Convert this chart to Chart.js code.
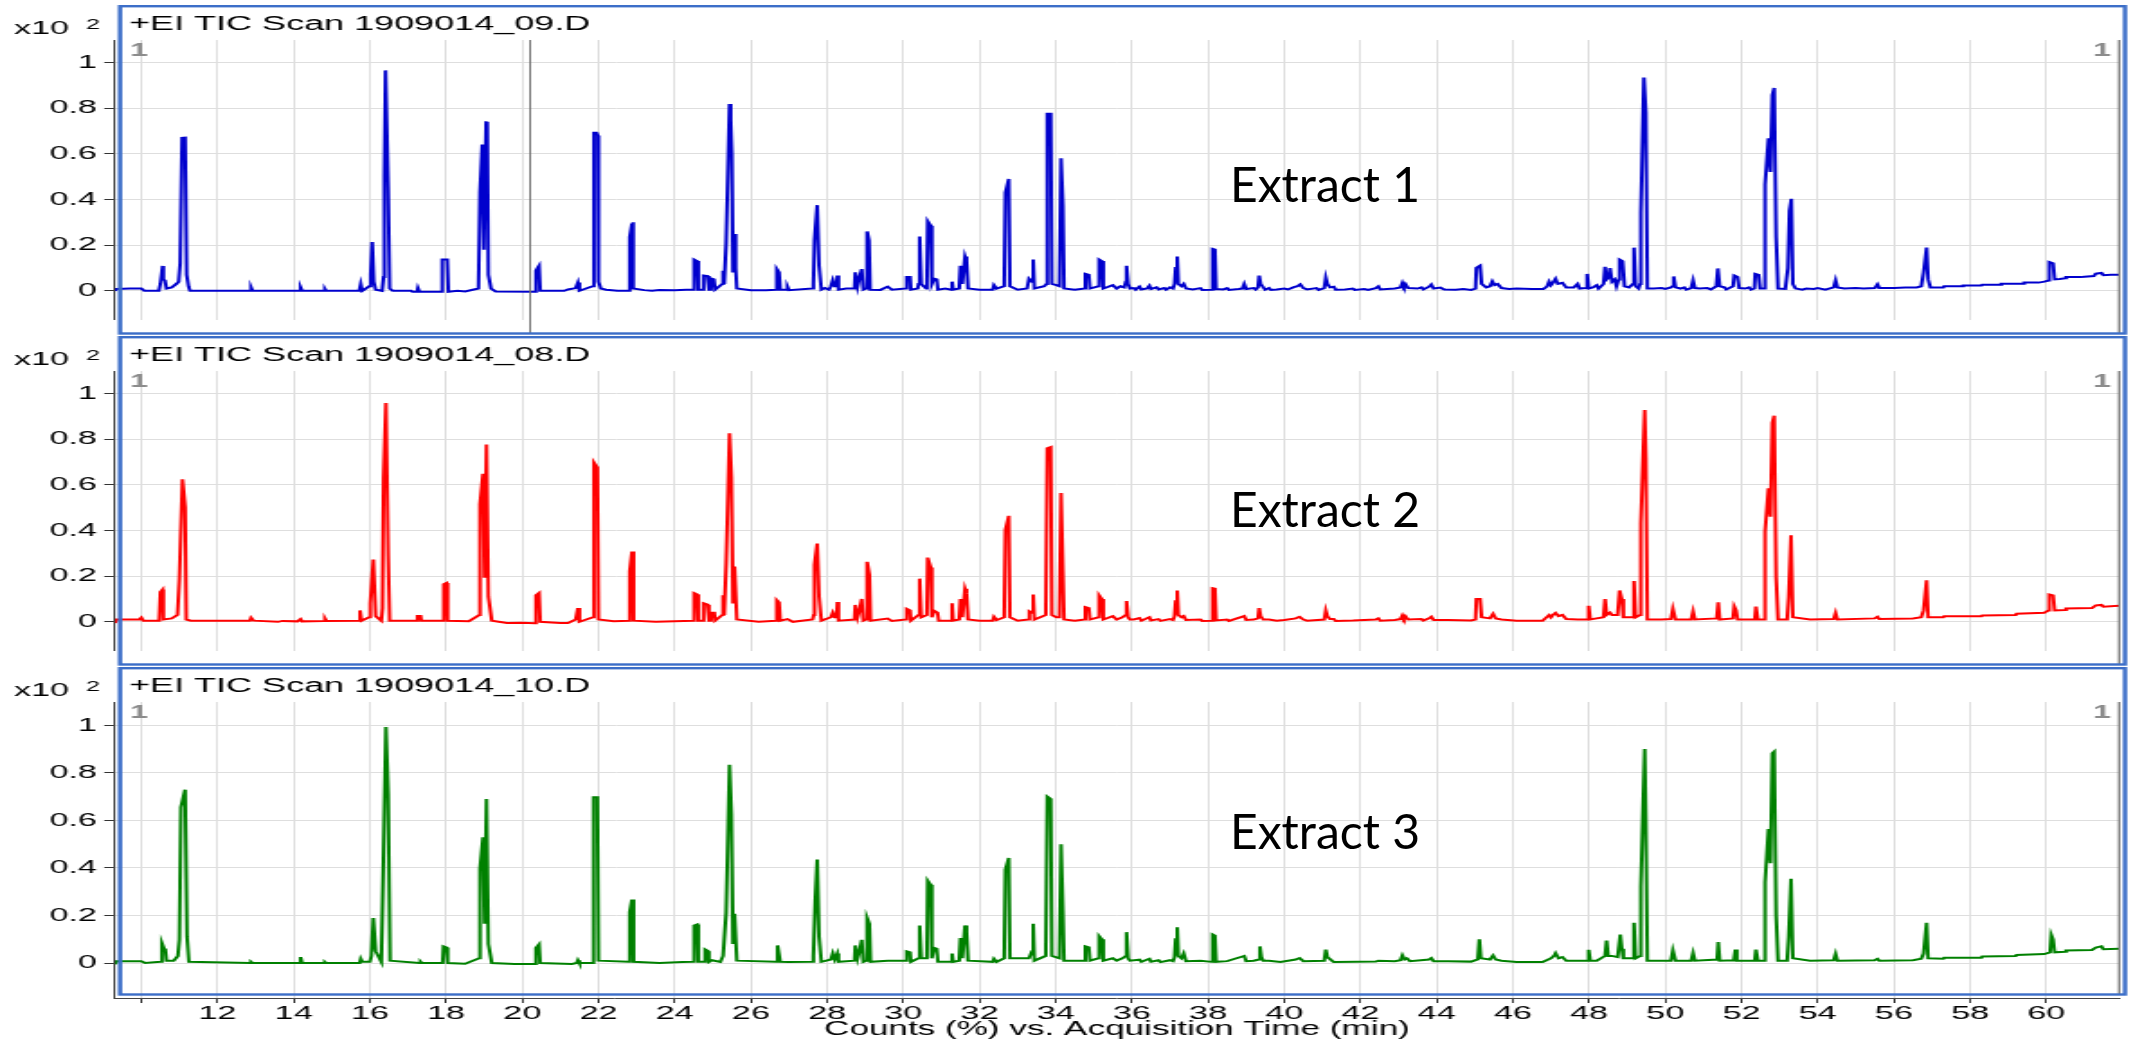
<!DOCTYPE html>
<html>
<head>
<meta charset="utf-8">
<script src="https://cdn.jsdelivr.net/npm/chart.js@4.4.1/dist/chart.umd.min.js"></script>
<style>
  html, body { margin: 0; padding: 0; background: #fff; }
  body { width: 2133px; height: 1041px; position: relative; overflow: hidden; }
  canvas.panel { position: absolute; left: 0; }
  .extract { position: absolute; left: 1230px; font-family: Lato, "Noto Sans", sans-serif; font-size: 48px; line-height: 1; color: #000; white-space: nowrap; }
</style>
</head>
<body>
<canvas id="c1" class="panel" width="1185" height="331" style="top:4px;width:2133px;height:331px"></canvas>
<canvas id="c2" class="panel" width="1185" height="331" style="top:335px;width:2133px;height:331px"></canvas>
<canvas id="c3" class="panel" width="1185" height="375" style="top:666px;width:2133px;height:375px"></canvas>
<div class="extract" style="top:160px">Extract 1</div>
<div class="extract" style="top:485px">Extract 2</div>
<div class="extract" style="top:807px">Extract 3</div>
<script>
// axis ticks / labels
const timeTicks  = [10, 12, 14, 16, 18, 20, 22, 24, 26, 28, 30, 32, 34, 36, 38, 40, 42, 44, 46, 48, 50, 52, 54, 56, 58, 60];
const timeLabels = ['', '12', '14', '16', '18', '20', '22', '24', '26', '28', '30', '32', '34', '36', '38', '40', '42', '44', '46', '48', '50', '52', '54', '56', '58', '60'];
const countTicks  = [0, 0.2, 0.4, 0.6, 0.8, 1];
const countLabels = ['0', '0.2', '0.4', '0.6', '0.8', '1'];
const titles = ['+EI TIC Scan 1909014_09.D', '+EI TIC Scan 1909014_08.D', '+EI TIC Scan 1909014_10.D'];
const xTitle = 'Counts (%) vs. Acquisition Time (min)';
const cursorTime = 20.19;

// [acquisition time (min), counts (x10^2 %)]
const extract1 = [
  [9.31,0.0],[9.35,0.008],[9.7,0.01],[10.0,0.01],[10.08,0.0],
  [10.46,0.0],[10.5,0.03],[10.56,0.109],[10.58,0.05],[10.62,0.046],[10.66,0.01],[10.8,0.015],[10.92,0.03],[10.98,0.04],[11.02,0.12],[11.07,0.67],[11.15,0.671],[11.19,0.07],[11.24,0.02],[11.28,0.0],
  [12.86,0.0],[12.88,0.015],[12.92,0.0],[14.15,0.0],[14.18,0.015],[14.22,0.0],[14.8,0.0],[14.82,0.008],[14.85,0.0],[15.72,0.0],[15.76,0.03],[15.8,0.0],
  [15.98,0.02],[16.02,0.07],[16.06,0.214],[16.1,0.04],[16.15,0.005],
  [16.32,0.0],[16.36,0.06],[16.38,0.5],[16.41,0.965],[16.44,0.965],[16.48,0.445],[16.52,0.01],[16.6,0.0],
  [17.08,0.0],[17.12,-0.004],[17.24,-0.004],[17.26,0.012],[17.3,-0.004],[17.6,-0.004],
  [17.88,-0.004],[17.9,0.137],[18.03,0.137],[18.06,-0.004],[18.3,0.0],[18.5,-0.003],
  [18.85,0.01],[18.89,0.43],[18.95,0.64],[18.99,0.18],[19.05,0.738],[19.08,0.74],[19.11,0.07],[19.18,0.01],[19.3,-0.003],
  [20.34,-0.004],[20.36,0.088],[20.4,0.1],[20.44,0.11],[20.47,0.0],
  [21.1,0.0],[21.2,0.006],[21.4,0.012],[21.46,0.036],[21.5,0.0],
  [21.85,0.02],[21.88,0.692],[21.95,0.692],[21.98,0.68],[22.0,0.04],[22.06,0.01],[22.2,0.005],[22.5,0.0],
  [22.8,0.0],[22.82,0.235],[22.88,0.294],[22.9,0.3],[22.92,0.01],
  [23.2,0.003],[23.4,0.0],[23.6,0.004],[24.0,0.003],[24.3,0.005],
  [24.49,0.005],[24.51,0.137],[24.59,0.13],[24.62,0.005],[24.74,0.005],[24.76,0.067],[24.86,0.065],[24.9,0.005],[24.95,0.005],[24.97,0.053],[25.03,0.05],[25.06,0.005],
  [25.25,0.03],[25.27,0.088],[25.3,0.03],[25.35,0.207],[25.44,0.818],[25.47,0.75],[25.5,0.6],[25.53,0.08],[25.57,0.249],[25.6,0.1],[25.63,0.01],
  [26.0,0.003],[26.4,0.002],[26.66,0.005],[26.68,0.095],[26.74,0.08],[26.77,0.005],[26.94,0.005],[26.96,0.018],[27.0,0.003],
  [27.6,0.01],[27.64,0.03],[27.67,0.221],[27.74,0.375],[27.79,0.11],[27.85,0.005],
  [27.94,0.012],[28.05,0.005],[28.1,0.02],[28.15,0.046],[28.2,0.02],[28.25,0.02],[28.27,0.067],[28.3,0.005],
  [28.5,0.01],[28.72,0.01],[28.74,0.081],[28.8,0.02],[28.85,0.06],[28.91,0.095],[28.95,0.005],
  [29.03,0.01],[29.05,0.26],[29.1,0.22],[29.13,0.005],[29.4,0.004],[29.59,0.018],[29.7,0.005],
  [30.06,0.01],[30.09,0.06],[30.18,0.06],[30.2,0.005],[30.38,0.01],[30.4,0.03],[30.43,0.238],[30.47,0.03],[30.6,0.01],[30.62,0.03],[30.64,0.305],[30.72,0.285],[30.75,0.03],[30.81,0.053],[30.88,0.05],[30.91,0.005],
  [31.1,0.01],[31.26,0.005],[31.28,0.04],[31.31,0.005],[31.47,0.01],[31.5,0.11],[31.55,0.03],[31.62,0.15],[31.66,0.13],[31.7,0.01],
  [32.0,0.005],[32.35,0.005],[32.38,0.025],[32.45,0.01],[32.65,0.02],[32.68,0.43],[32.77,0.49],[32.8,0.02],[33.0,0.005],
  [33.25,0.01],[33.3,0.053],[33.38,0.04],[33.41,0.137],[33.44,0.01],[33.7,0.02],[33.76,0.03],[33.78,0.775],[33.87,0.775],[33.9,0.03],[34.02,0.025],[34.1,0.02],[34.14,0.58],[34.19,0.375],[34.22,0.01],
  [34.5,0.005],[34.76,0.01],[34.78,0.074],[34.87,0.07],[34.9,0.01],[35.12,0.02],[35.14,0.137],[35.21,0.13],[35.25,0.01],
  [35.5,0.025],[35.6,0.01],[35.7,0.02],[35.8,0.015],[35.84,0.04],[35.86,0.11],[35.9,0.03],[35.95,0.01],
  [36.05,0.012],[36.1,0.005],[36.2,0.018],[36.25,0.006],[36.4,0.01],[36.46,0.022],[36.5,0.008],[36.65,0.015],[36.7,0.006],[36.85,0.012],[36.9,0.005],[37.0,0.015],[37.08,0.01],
  [37.12,0.03],[37.15,0.1],[37.19,0.15],[37.22,0.03],[37.3,0.02],[37.36,0.03],[37.42,0.01],[37.6,0.006],[37.8,0.012],[37.85,0.004],
  [38.1,0.005],[38.12,0.183],[38.18,0.18],[38.21,0.008],[38.4,0.006],[38.5,0.012],[38.55,0.004],[38.8,0.008],[38.9,0.01],[38.95,0.03],[39.0,0.008],[39.2,0.012],[39.25,0.006],
  [39.31,0.015],[39.34,0.067],[39.38,0.03],[39.45,0.015],[39.5,0.005],[39.6,0.012],[39.65,0.004],[39.8,0.006],[40.0,0.01],[40.1,0.006],[40.25,0.016],[40.35,0.02],[40.42,0.028],[40.5,0.012],[40.6,0.006],[40.85,0.012],[40.9,0.004],
  [41.05,0.012],[41.09,0.057],[41.13,0.03],[41.2,0.015],[41.3,0.018],[41.35,0.005],[41.6,0.006],[41.8,0.01],[41.85,0.004],[42.1,0.008],[42.2,0.004],[42.4,0.012],[42.47,0.02],[42.52,0.006],[42.7,0.008],[42.9,0.01],
  [43.05,0.015],[43.1,0.035],[43.14,0.02],[43.18,0.03],[43.25,0.012],[43.5,0.01],[43.6,0.015],[43.65,0.006],[43.8,0.018],[43.86,0.028],[43.92,0.01],[44.1,0.014],[44.2,0.006],[44.5,0.005],[44.7,0.008],[44.9,0.004],
  [45.02,0.01],[45.04,0.1],[45.14,0.11],[45.18,0.03],[45.3,0.015],[45.4,0.02],[45.46,0.042],[45.52,0.025],[45.6,0.03],[45.7,0.012],[45.9,0.008],[46.1,0.01],[46.5,0.008],[46.8,0.008],
  [46.9,0.02],[46.95,0.04],[47.0,0.025],[47.05,0.035],[47.12,0.053],[47.18,0.03],[47.3,0.035],[47.4,0.015],[47.6,0.015],[47.7,0.03],[47.75,0.01],[47.92,0.012],
  [47.95,0.074],[47.99,0.01],[48.1,0.015],[48.2,0.025],[48.25,0.01],[48.38,0.03],[48.42,0.105],[48.46,0.05],[48.52,0.06],[48.55,0.1],[48.6,0.04],[48.67,0.05],[48.72,0.02],[48.78,0.05],[48.8,0.137],[48.88,0.13],[48.93,0.02],
  [49.05,0.015],[49.15,0.03],[49.18,0.189],[49.22,0.02],[49.3,0.01],[49.34,0.03],[49.36,0.34],[49.44,0.934],[49.49,0.78],[49.53,0.01],
  [49.7,0.01],[49.9,0.012],[50.0,0.008],[50.15,0.015],[50.19,0.02],[50.22,0.063],[50.27,0.015],[50.4,0.01],[50.5,0.015],[50.55,0.005],[50.68,0.012],[50.73,0.046],[50.78,0.012],[50.9,0.01],[51.1,0.012],[51.2,0.006],[51.34,0.02],[51.38,0.098],[51.43,0.02],[51.55,0.015],[51.6,0.006],[51.78,0.02],[51.81,0.067],[51.9,0.06],[51.94,0.012],[52.1,0.01],[52.2,0.015],[52.25,0.005],
  [52.34,0.01],[52.36,0.074],[52.45,0.07],[52.49,0.01],[52.6,0.01],[52.62,0.466],[52.71,0.668],[52.76,0.52],[52.81,0.857],[52.86,0.888],[52.91,0.235],[52.96,0.01],
  [53.15,0.008],[53.22,0.1],[53.26,0.35],[53.31,0.403],[53.35,0.03],[53.42,0.01],[53.6,0.005],[53.7,0.01],[53.9,0.008],[54.0,0.012],[54.2,0.005],[54.42,0.015],[54.47,0.046],[54.52,0.015],[54.7,0.01],[55.0,0.012],[55.2,0.01],[55.5,0.012],[55.57,0.028],[55.62,0.012],[56.0,0.012],[56.3,0.015],[56.6,0.015],[56.72,0.02],
  [56.78,0.08],[56.86,0.189],[56.9,0.05],[56.96,0.015],[57.3,0.015],[57.32,0.02],[57.8,0.02],[57.82,0.023],[58.3,0.023],[58.32,0.027],[58.8,0.027],[58.82,0.031],[59.4,0.031],[59.42,0.036],[59.8,0.036],[59.95,0.04],[60.06,0.045],
  [60.08,0.126],[60.18,0.12],[60.22,0.05],[60.35,0.052],[60.5,0.055],[60.52,0.06],[60.9,0.06],[61.0,0.062],[61.25,0.065],[61.3,0.075],[61.45,0.078],[61.5,0.068],[61.7,0.07],[61.9,0.07]
];

const extract2 = [
  [9.31,-0.005],[9.35,0.01],[9.95,0.01],[10.0,0.018],[10.05,0.005],
  [10.47,0.005],[10.5,0.13],[10.56,0.141],[10.58,0.01],[10.8,0.015],[10.95,0.03],[11.0,0.19],[11.08,0.624],[11.15,0.5],[11.18,0.01],[11.3,0.005],
  [12.85,0.005],[12.88,0.018],[12.95,0.005],[13.59,0.0],[13.7,0.004],[14.1,0.002],[14.18,0.012],[14.22,0.002],[14.8,0.004],[14.82,0.015],[14.86,0.004],
  [15.7,0.005],[15.74,0.05],[15.78,0.005],
  [15.98,0.02],[16.01,0.08],[16.09,0.273],[16.15,0.025],[16.3,0.005],[16.33,0.06],[16.36,0.627],[16.42,0.958],[16.48,0.29],[16.52,0.005],
  [17.24,0.005],[17.25,0.025],[17.33,0.025],[17.35,0.005],
  [17.92,0.005],[17.94,0.165],[18.01,0.17],[18.04,0.005],[18.6,0.003],
  [18.87,0.03],[18.89,0.515],[18.97,0.648],[19.01,0.193],[19.06,0.776],[19.11,0.11],[19.2,0.005],[19.6,-0.005],[20.0,-0.004],
  [20.33,-0.006],[20.36,0.116],[20.44,0.126],[20.47,0.0],[21.0,-0.005],[21.2,-0.005],[21.4,0.01],[21.46,0.06],[21.5,0.0],
  [21.86,0.02],[21.88,0.697],[21.97,0.676],[22.0,0.01],[22.4,0.003],
  [22.8,0.005],[22.82,0.221],[22.88,0.308],[22.92,0.005],[23.5,0.0],[24.0,0.003],
  [24.49,0.005],[24.51,0.126],[24.59,0.12],[24.62,0.005],[24.74,0.005],[24.76,0.081],[24.86,0.075],[24.9,0.005],[24.95,0.005],[24.97,0.04],[25.04,0.04],[25.06,0.005],
  [25.25,0.03],[25.27,0.116],[25.3,0.03],[25.35,0.25],[25.44,0.825],[25.49,0.634],[25.53,0.08],[25.57,0.242],[25.63,0.01],
  [26.2,0.0],[26.66,0.005],[26.68,0.095],[26.74,0.085],[26.77,0.005],[26.96,0.012],[27.1,0.0],
  [27.62,0.01],[27.65,0.03],[27.67,0.25],[27.74,0.343],[27.79,0.11],[27.85,0.005],
  [28.1,0.02],[28.15,0.04],[28.2,0.02],[28.25,0.02],[28.27,0.087],[28.3,0.005],[28.72,0.01],[28.74,0.074],[28.8,0.02],[28.85,0.05],[28.91,0.1],[28.95,0.005],
  [29.03,0.01],[29.05,0.263],[29.11,0.207],[29.14,0.005],[29.59,0.014],[29.7,0.004],
  [30.06,0.01],[30.09,0.057],[30.18,0.05],[30.2,0.005],[30.4,0.03],[30.43,0.189],[30.47,0.02],[30.62,0.03],[30.64,0.281],[30.72,0.238],[30.75,0.02],[30.81,0.048],[30.9,0.04],[30.93,0.005],
  [31.26,0.005],[31.28,0.081],[31.31,0.005],[31.47,0.01],[31.5,0.1],[31.55,0.02],[31.62,0.145],[31.66,0.125],[31.7,0.01],
  [32.0,0.005],[32.35,0.005],[32.38,0.022],[32.45,0.008],[32.65,0.02],[32.68,0.403],[32.77,0.464],[32.8,0.02],[33.0,0.005],
  [33.28,0.01],[33.31,0.046],[33.38,0.04],[33.41,0.12],[33.44,0.01],[33.74,0.03],[33.78,0.76],[33.87,0.765],[33.9,0.03],[34.02,0.02],[34.1,0.02],[34.14,0.564],[34.19,0.22],[34.22,0.01],
  [34.5,0.005],[34.76,0.01],[34.78,0.064],[34.87,0.06],[34.9,0.01],[35.12,0.02],[35.14,0.116],[35.21,0.1],[35.25,0.01],
  [35.5,0.025],[35.6,0.01],[35.75,0.02],[35.84,0.03],[35.86,0.091],[35.9,0.02],[35.95,0.01],
  [36.05,0.01],[36.2,0.016],[36.25,0.005],[36.46,0.02],[36.5,0.006],[36.7,0.012],[36.75,0.004],[37.0,0.012],[37.08,0.008],
  [37.12,0.025],[37.15,0.09],[37.19,0.137],[37.22,0.03],[37.3,0.02],[37.36,0.025],[37.42,0.008],[37.8,0.01],[37.85,0.004],
  [38.1,0.005],[38.12,0.147],[38.18,0.145],[38.21,0.006],[38.5,0.01],[38.55,0.004],[38.95,0.025],[39.0,0.008],[39.2,0.01],
  [39.31,0.015],[39.34,0.06],[39.38,0.025],[39.45,0.01],[39.6,0.01],[39.8,0.005],[40.0,0.008],[40.3,0.015],[40.4,0.022],[40.5,0.01],[40.6,0.005],
  [41.05,0.01],[41.09,0.049],[41.13,0.025],[41.2,0.012],[41.3,0.012],[41.35,0.004],[41.8,0.006],[42.4,0.01],[42.47,0.015],[42.52,0.005],[42.9,0.008],
  [43.05,0.012],[43.1,0.028],[43.14,0.015],[43.18,0.025],[43.25,0.01],[43.6,0.012],[43.65,0.005],[43.8,0.015],[43.86,0.022],[43.92,0.008],[44.3,0.008],[44.9,0.006],
  [45.02,0.01],[45.04,0.1],[45.14,0.1],[45.18,0.02],[45.4,0.015],[45.48,0.035],[45.55,0.015],[45.7,0.01],[46.1,0.005],[46.78,0.005],
  [46.95,0.03],[47.0,0.02],[47.05,0.03],[47.12,0.039],[47.2,0.025],[47.3,0.03],[47.4,0.012],[47.7,0.01],
  [47.97,0.01],[47.99,0.07],[48.03,0.01],[48.2,0.015],[48.38,0.02],[48.42,0.1],[48.46,0.03],[48.55,0.04],[48.6,0.03],[48.75,0.03],[48.8,0.137],[48.86,0.1],[48.9,0.02],
  [49.15,0.02],[49.18,0.179],[49.22,0.02],[49.34,0.03],[49.36,0.43],[49.46,0.927],[49.49,0.717],[49.53,0.01],
  [49.9,0.01],[50.15,0.012],[50.2,0.057],[50.27,0.01],[50.68,0.01],[50.73,0.046],[50.78,0.01],[51.35,0.015],[51.39,0.085],[51.43,0.01],[51.78,0.015],[51.81,0.067],[51.86,0.05],[51.9,0.01],
  [52.35,0.01],[52.38,0.067],[52.43,0.01],[52.6,0.01],[52.62,0.396],[52.71,0.585],[52.76,0.46],[52.81,0.871],[52.86,0.902],[52.91,0.193],[52.96,0.01],
  [53.2,0.01],[53.24,0.11],[53.3,0.379],[53.35,0.02],[53.8,0.01],[54.42,0.012],[54.47,0.039],[54.52,0.01],[55.5,0.015],[55.57,0.022],[55.62,0.012],[56.5,0.015],[56.72,0.02],
  [56.78,0.05],[56.86,0.182],[56.9,0.02],[57.3,0.02],[57.32,0.024],[58.3,0.024],[58.32,0.028],[59.2,0.03],[59.22,0.035],[59.95,0.04],[60.06,0.05],
  [60.08,0.119],[60.18,0.115],[60.22,0.05],[60.5,0.052],[60.52,0.058],[61.2,0.06],[61.3,0.072],[61.45,0.074],[61.5,0.066],[61.9,0.07]
];

const extract3 = [
  [9.31,-0.005],[9.35,0.008],[10.0,0.008],[10.1,0.0],
  [10.5,0.005],[10.54,0.084],[10.6,0.06],[10.63,0.057],[10.66,0.01],[10.85,0.01],[10.96,0.03],[11.0,0.1],[11.04,0.655],[11.15,0.729],[11.2,0.11],[11.25,0.005],
  [12.86,0.0],[12.88,0.005],[12.92,0.0],[14.14,0.0],[14.18,0.025],[14.22,0.0],[14.8,0.0],[14.82,0.004],[14.85,0.0],[15.73,0.0],[15.76,0.018],[15.8,0.005],
  [16.0,0.005],[16.04,0.03],[16.09,0.189],[16.15,0.05],[16.3,0.005],[16.35,0.39],[16.42,0.993],[16.48,0.71],[16.53,0.01],
  [17.3,0.0],[17.33,0.005],[17.36,0.0],[17.91,0.0],[17.93,0.07],[18.01,0.065],[18.04,0.0],[18.5,-0.003],
  [18.87,0.02],[18.89,0.396],[18.97,0.529],[19.01,0.165],[19.06,0.69],[19.11,0.08],[19.2,0.0],[19.8,-0.004],
  [20.33,-0.004],[20.36,0.063],[20.44,0.078],[20.47,0.0],[21.3,-0.004],[21.43,0.0],[21.46,0.012],[21.5,0.0],
  [21.84,0.0],[21.86,0.01],[21.88,0.697],[21.97,0.697],[22.0,0.01],[22.8,0.005],[22.82,0.214],[22.88,0.267],[22.92,0.005],
  [23.6,0.0],[24.2,0.004],[24.49,0.005],[24.51,0.158],[24.59,0.162],[24.62,0.005],[24.78,0.005],[24.8,0.057],[24.88,0.05],[24.9,0.005],[24.98,0.012],[25.2,0.005],
  [25.27,0.03],[25.35,0.21],[25.44,0.834],[25.49,0.627],[25.53,0.08],[25.57,0.207],[25.63,0.01],
  [26.66,0.005],[26.7,0.074],[26.77,0.005],[27.0,0.004],[27.6,0.005],[27.64,0.03],[27.69,0.263],[27.74,0.435],[27.79,0.11],[27.85,0.005],
  [28.1,0.015],[28.15,0.04],[28.2,0.015],[28.27,0.04],[28.3,0.005],[28.72,0.01],[28.74,0.074],[28.8,0.02],[28.85,0.05],[28.91,0.098],[28.95,0.005],
  [29.03,0.01],[29.05,0.19],[29.11,0.165],[29.14,0.005],[29.59,0.01],[30.06,0.01],[30.09,0.049],[30.18,0.045],[30.2,0.005],
  [30.4,0.02],[30.43,0.158],[30.47,0.02],[30.62,0.02],[30.64,0.347],[30.72,0.329],[30.75,0.02],[30.81,0.064],[30.88,0.06],[30.91,0.005],
  [31.26,0.005],[31.28,0.04],[31.31,0.005],[31.47,0.01],[31.5,0.105],[31.55,0.02],[31.62,0.158],[31.66,0.13],[31.7,0.01],
  [32.35,0.005],[32.38,0.018],[32.45,0.005],[32.65,0.02],[32.68,0.393],[32.77,0.442],[32.8,0.02],
  [33.3,0.02],[33.38,0.05],[33.41,0.165],[33.44,0.01],[33.74,0.03],[33.78,0.70],[33.87,0.69],[33.9,0.03],[34.1,0.02],[34.14,0.5],[34.19,0.22],[34.22,0.01],
  [34.76,0.01],[34.78,0.07],[34.87,0.066],[34.9,0.01],[35.12,0.02],[35.14,0.113],[35.21,0.1],[35.25,0.01],
  [35.5,0.02],[35.6,0.01],[35.75,0.02],[35.84,0.03],[35.86,0.13],[35.9,0.02],[35.95,0.01],
  [36.2,0.014],[36.25,0.005],[36.46,0.018],[36.5,0.006],[36.7,0.012],[36.75,0.004],[37.0,0.012],[37.08,0.008],
  [37.12,0.025],[37.15,0.1],[37.19,0.151],[37.22,0.03],[37.3,0.02],[37.36,0.04],[37.42,0.008],[37.8,0.01],
  [38.1,0.005],[38.12,0.12],[38.18,0.115],[38.21,0.005],[38.5,0.008],[38.95,0.03],[39.0,0.008],[39.2,0.01],
  [39.33,0.015],[39.36,0.07],[39.4,0.025],[39.45,0.01],[39.6,0.01],[39.9,0.005],[40.3,0.015],[40.4,0.021],[40.5,0.008],
  [41.05,0.01],[41.09,0.057],[41.13,0.025],[41.25,0.01],[41.3,0.004],[41.9,0.005],[42.4,0.006],[42.47,0.01],[42.9,0.008],
  [43.05,0.012],[43.1,0.033],[43.16,0.015],[43.22,0.02],[43.3,0.008],[43.8,0.015],[43.86,0.021],[43.92,0.008],[44.3,0.008],[44.9,0.006],
  [45.08,0.015],[45.12,0.1],[45.16,0.02],[45.4,0.015],[45.48,0.032],[45.55,0.015],[45.7,0.01],[46.1,0.004],[46.78,0.004],
  [47.0,0.02],[47.08,0.03],[47.12,0.042],[47.2,0.02],[47.3,0.025],[47.4,0.01],[47.7,0.01],
  [47.97,0.01],[47.99,0.056],[48.03,0.01],[48.2,0.01],[48.42,0.03],[48.46,0.095],[48.5,0.03],[48.6,0.03],[48.75,0.025],[48.82,0.12],[48.86,0.06],[48.9,0.02],
  [49.15,0.02],[49.18,0.169],[49.22,0.02],[49.34,0.03],[49.36,0.32],[49.46,0.9],[49.49,0.6],[49.53,0.01],
  [49.9,0.01],[50.15,0.01],[50.2,0.053],[50.27,0.01],[50.68,0.01],[50.73,0.042],[50.78,0.01],[51.36,0.015],[51.39,0.088],[51.43,0.01],[51.8,0.012],[51.84,0.057],[51.88,0.01],
  [52.35,0.01],[52.38,0.057],[52.43,0.01],[52.6,0.01],[52.62,0.34],[52.71,0.564],[52.76,0.42],[52.81,0.882],[52.86,0.889],[52.91,0.2],[52.96,0.01],
  [53.2,0.01],[53.24,0.11],[53.3,0.354],[53.35,0.02],[53.8,0.01],[54.42,0.012],[54.47,0.039],[54.52,0.01],[55.5,0.012],[55.57,0.018],[55.62,0.01],[56.5,0.012],[56.72,0.018],
  [56.78,0.04],[56.86,0.169],[56.9,0.02],[57.3,0.018],[57.32,0.022],[58.3,0.022],[58.32,0.028],[59.2,0.03],[59.22,0.034],[59.95,0.038],[60.1,0.045],
  [60.13,0.119],[60.18,0.1],[60.22,0.045],[60.5,0.048],[60.52,0.053],[61.2,0.055],[61.3,0.065],[61.45,0.07],[61.5,0.058],[61.9,0.06]
];

// the original screenshot is stretched sideways, so each canvas is drawn narrow and widened by CSS
const STRETCH = 2133 / 1185;
const px = x => x / STRETCH;   // page x -> canvas x
const FONT = '"Liberation Sans", Arial, sans-serif';
Chart.defaults.font.family = FONT;

const panelDeco = {
  id: 'panelDeco',
  afterDraw(chart, args, o) {
    const { ctx, chartArea: a, scales } = chart;
    ctx.save();
    ctx.lineWidth = 1;
    // right hand axis line
    ctx.strokeStyle = '#5a5a5a';
    ctx.beginPath(); ctx.moveTo(a.right, a.top); ctx.lineTo(a.right, o.frameBottom); ctx.stroke();
    if (o.cursor != null) {
      const cx = Math.round(scales.x.getPixelForValue(o.cursor)) + 0.5;
      ctx.strokeStyle = '#707070';
      ctx.beginPath(); ctx.moveTo(cx, a.top); ctx.lineTo(cx, o.frameBottom); ctx.stroke();
    }
    // blue panel frame
    ctx.strokeStyle = '#3c6ec8';
    ctx.lineWidth = 2.4;
    ctx.strokeRect(px(120), 2.2, px(2125) - px(120), o.frameBottom - 2.2);
    // panel title
    ctx.fillStyle = '#000';
    ctx.textAlign = 'left';
    ctx.textBaseline = 'alphabetic';
    ctx.font = '20px ' + FONT;
    ctx.fillText(o.title, px(129), 25.5);
    // x10^2 multiplier
    ctx.font = '19px ' + FONT;
    ctx.fillText('x10', px(14), 30);
    ctx.font = '14px ' + FONT;
    ctx.fillText('2', px(86), 25);
    // grey trace numbers
    ctx.fillStyle = '#8c8c8c';
    ctx.font = 'bold 18px ' + FONT;
    ctx.fillText('1', px(130), 52);
    ctx.textAlign = 'right';
    ctx.fillText('1', px(2111), 52);
    ctx.restore();
  }
};

function buildPanel(id, series, color, title, bottom, cursor) {
  const ctx = document.getElementById(id).getContext('2d');
  return new Chart(ctx, {
    type: 'line',
    data: {
      datasets: [{
        data: series.map(p => ({ x: p[0], y: p[1] })),
        borderColor: color,
        borderWidth: 2,
        pointRadius: 0,
        tension: 0,
        fill: false
      }]
    },
    options: {
      responsive: false,
      animation: false,
      devicePixelRatio: 1,
      parsing: false,
      layout: { padding: { top: 36, right: 1185 - px(2119), bottom: bottom ? 0 : 4, left: 0 } },
      plugins: {
        legend: { display: false },
        tooltip: { enabled: false },
        panelDeco: { title, cursor, frameBottom: bottom ? 328.5 : 329.5 }
      },
      scales: {
        x: {
          type: 'linear',
          min: 9.31,
          max: 61.91,
          afterBuildTicks: s => { s.ticks = timeTicks.map(v => ({ value: v })); },
          afterFit: s => { s.height = bottom ? 43 : 0; },
          grid: { color: '#dedede', lineWidth: 1, drawTicks: bottom, tickLength: 5, tickColor: '#333' },
          border: { display: bottom, color: '#444', width: 1 },
          ticks: {
            display: bottom,
            autoSkip: false,
            maxRotation: 0,
            padding: -1,
            color: '#000',
            font: { size: 19 },
            callback: v => timeLabels[timeTicks.indexOf(v)]
          },
          title: { display: bottom, text: xTitle, color: '#000', font: { size: 19.5 }, padding: { top: 0, bottom: 0 } }
        },
        y: {
          min: bottom ? -0.147 : -0.126,
          max: 1.098,
          afterBuildTicks: s => { s.ticks = countTicks.map(v => ({ value: v })); },
          afterFit: s => { s.width = px(115); },
          grid: { color: '#dedede', lineWidth: 1, tickLength: 6, tickColor: '#333' },
          border: { color: '#444', width: 1 },
          ticks: {
            padding: 4,
            color: '#000',
            font: { size: 19 },
            callback: v => countLabels[countTicks.indexOf(v)]
          }
        }
      }
    },
    plugins: [panelDeco]
  });
}

buildPanel('c1', extract1, '#0000cd', titles[0], false, cursorTime);
buildPanel('c2', extract2, '#ff0000', titles[1], false, null);
buildPanel('c3', extract3, '#008000', titles[2], true, null);
</script>
</body>
</html>
